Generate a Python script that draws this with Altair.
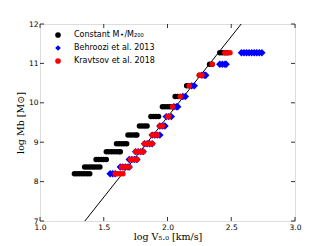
import altair as alt
import pandas as pd

levels = [8.20, 8.37, 8.56, 8.76, 8.96, 9.18, 9.41, 9.65, 9.90, 10.16, 10.43, 10.70, 10.98, 11.27]

black_x = [
    [1.27, 1.29, 1.31, 1.33, 1.35, 1.37, 1.39],
    [1.35, 1.37, 1.39, 1.41, 1.43, 1.45, 1.47],
    [1.44, 1.46, 1.48, 1.50, 1.52],
    [1.52, 1.54, 1.56, 1.58, 1.60, 1.62, 1.63],
    [1.60, 1.62, 1.64, 1.66, 1.68],
    [1.69, 1.71, 1.73, 1.75, 1.76],
    [1.78, 1.80, 1.82, 1.84],
    [1.87, 1.89, 1.91, 1.93],
    [1.96, 1.98, 2.00, 2.02, 2.04],
    [2.06, 2.08, 2.10],
    [2.15, 2.17],
    [2.25, 2.27, 2.28],
    [2.33, 2.35],
    [2.41, 2.43, 2.45, 2.47],
]
blue_x = [
    [1.55, 1.57, 1.59],
    [1.63, 1.65, 1.67, 1.69, 1.70],
    [1.70, 1.72, 1.74, 1.76],
    [1.75, 1.77, 1.79, 1.81],
    [1.82, 1.84, 1.86, 1.88],
    [1.88, 1.90, 1.92, 1.94],
    [1.94, 1.96, 1.98],
    [1.99, 2.01, 2.03],
    [2.05, 2.07, 2.08],
    [2.12, 2.14],
    [2.19, 2.21],
    [2.27, 2.29, 2.30],
    [2.41, 2.43, 2.45, 2.46],
    [2.58, 2.60, 2.62, 2.64, 2.66, 2.68, 2.70, 2.72, 2.74],
]
red_x = [
    [1.59, 1.61, 1.63, 1.65],
    [1.64, 1.66, 1.68, 1.70],
    [1.71, 1.73, 1.75, 1.76],
    [1.75, 1.77, 1.79, 1.81],
    [1.82, 1.84, 1.86, 1.88],
    [1.88, 1.90, 1.92],
    [1.94, 1.96],
    [2.00, 2.01],
    [2.04],
    [2.10],
    [2.17],
    [2.25, 2.27],
    [2.35],
    [2.45, 2.47, 2.49],
]

series_names = ["Constant M⋆/M₂₀₀", "Behroozi et al. 2013", "Kravtsov et al. 2018"]
series_colors = ["#000000", "#0000ff", "#ff0000"]
series_shapes = ["circle", "diamond", "circle"]
series_sizes = [30, 55, 30]

line_x = [1.352, 2.578]
line_y = [7.0, 12.0]

x_ticks = [1.0, 1.5, 2.0, 2.5, 3.0]
y_ticks = [7, 8, 9, 10, 11, 12]

W, H = 255, 197
xscale = alt.Scale(domain=[1.0, 3.0], nice=False, zero=False)
yscale = alt.Scale(domain=[7, 12], nice=False, zero=False)

xaxis = alt.Axis(values=x_ticks, format=".1f", tickSize=0, grid=False,
                 labelFontSize=7.5, labelColor="#000", labelPadding=2,
                 labelOverlap=False, labelFlush=False,
                 title="log V₅.₀ [km/s]", titleFont="DejaVu Serif",
                 titleFontWeight="normal", titleFontSize=9.5, titlePadding=1,
                 titleColor="#000", domain=False)
yaxis = alt.Axis(values=y_ticks, format="d", tickSize=0, grid=False,
                 labelFontSize=7.5, labelColor="#000", labelPadding=2,
                 labelOverlap=False, labelFlush=False,
                 title="log Mb [M⊙]", titleFont="DejaVu Serif",
                 titleFontWeight="normal", titleFontSize=9.5, titlePadding=3,
                 titleColor="#000", domain=False)

line_df = pd.DataFrame({"x": line_x, "y": line_y})
line = alt.Chart(line_df).mark_line(color="black", strokeWidth=1, clip=True).encode(
    x=alt.X("x:Q", scale=xscale, axis=xaxis),
    y=alt.Y("y:Q", scale=yscale, axis=yaxis),
)

color_enc = alt.Color("series:N", sort=series_names,
                      scale=alt.Scale(domain=series_names, range=series_colors),
                      legend=alt.Legend(title=None, orient="none", legendX=14, legendY=7,
                                        labelFontSize=8, labelColor="#000", symbolSize=32,
                                        rowPadding=5, labelOffset=12, symbolStrokeWidth=0))
shape_enc = alt.Shape("series:N", sort=series_names,
                      scale=alt.Scale(domain=series_names, range=series_shapes))

point_layers = []
for name, xs_all, sz in zip(series_names, [black_x, blue_x, red_x], series_sizes):
    rows = []
    for lv, xs in zip(levels, xs_all):
        for xv in xs:
            rows.append({"x": xv, "y": lv, "series": name})
    point_layers.append(
        alt.Chart(pd.DataFrame(rows)).mark_point(filled=True, opacity=1, strokeWidth=0, size=sz).encode(
            x=alt.X("x:Q", scale=xscale, axis=xaxis),
            y=alt.Y("y:Q", scale=yscale, axis=yaxis),
            color=color_enc,
            shape=shape_enc,
        )
    )

tick_df_x = pd.DataFrame({"t": x_ticks})
tick_df_y = pd.DataFrame({"t": y_ticks})
tk = 4
xt_bottom = alt.Chart(tick_df_x).mark_rule(color="black", strokeWidth=0.8).encode(
    x=alt.X("t:Q", scale=xscale, axis=xaxis), y=alt.value(H), y2=alt.value(H - tk))
xt_top = alt.Chart(tick_df_x).mark_rule(color="black", strokeWidth=0.8).encode(
    x=alt.X("t:Q", scale=xscale, axis=xaxis), y=alt.value(0), y2=alt.value(tk))
yt_left = alt.Chart(tick_df_y).mark_rule(color="black", strokeWidth=0.8).encode(
    y=alt.Y("t:Q", scale=yscale, axis=yaxis), x=alt.value(0), x2=alt.value(tk))
yt_right = alt.Chart(tick_df_y).mark_rule(color="black", strokeWidth=0.8).encode(
    y=alt.Y("t:Q", scale=yscale, axis=yaxis), x=alt.value(W), x2=alt.value(W - tk))

chart = alt.layer(line, *point_layers, xt_bottom, xt_top, yt_left, yt_right).properties(
    width=W, height=H,
    autosize=alt.AutoSizeParams(type="none"),
    padding={"left": 32, "top": 16, "right": 18, "bottom": 22},
).configure_view(stroke="black", strokeWidth=1.2).configure(font="DejaVu Sans")

chart.save("out.html", embed_options={"renderer": "svg", "actions": False})
